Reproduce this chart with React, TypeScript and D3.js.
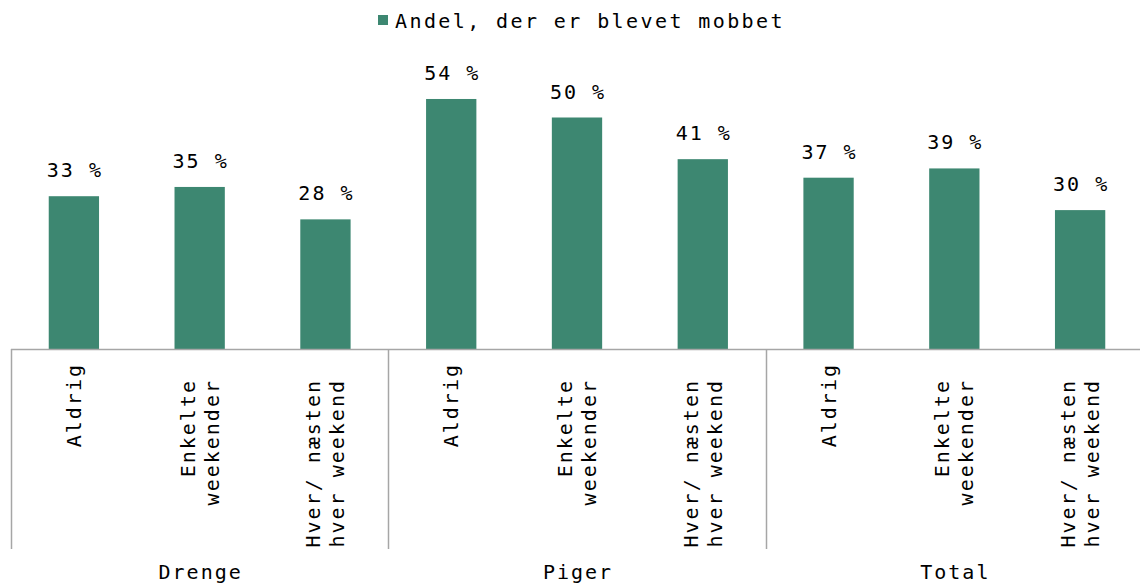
import React from 'react';
import * as d3 from 'd3';

// data
const groups = ['Drenge', 'Piger', 'Total'];
const subLabels = [['Aldrig'], ['Enkelte', 'weekender'], ['Hver/ næsten', 'hver weekend']];
const values = [33, 35, 28, 54, 50, 41, 37, 39, 30];
const seriesName = 'Andel, der er blevet mobbet';

const W = 1140;
const H = 585;
const barColor = '#3d8771';
const axisColor = '#a6a6a6';
const font = '"DejaVu Sans Mono", monospace';
const fs = 20;
const ls = 2;

export default function App() {
  const n = values.length;
  const x = d3
    .scaleBand<number>()
    .domain(d3.range(n))
    .range([11, 1143])
    .paddingInner(0.6)
    .paddingOuter(0.3);
  const y = d3.scaleLinear().domain([0, 60]).range([349, 71.2]);
  const step = x.step();
  const perGroup = subLabels.length;
  const baseY = y(0);

  return (
    <svg width={W} height={H} style={{ position: 'absolute', left: 0, top: 0 }} fontFamily={font}>
      {/* legend */}
      <rect x={378} y={15} width={10} height={10} fill={barColor} />
      <text x={395} y={28} fontSize={fs} letterSpacing={2.4} fill="#000">
        {seriesName}
      </text>

      {/* bars */}
      {values.map((v, i) => (
        <g key={i}>
          <rect x={x(i)} y={y(v)} width={x.bandwidth()} height={baseY - y(v)} fill={barColor} />
          <text
            x={x(i)! + x.bandwidth() / 2 + 1}
            y={y(v) - 19}
            fontSize={fs}
            letterSpacing={ls}
            textAnchor="middle"
            fill="#000"
          >
            {v} %
          </text>
        </g>
      ))}

      {/* axis line */}
      <line x1={11} x2={W} y1={baseY + 0.5} y2={baseY + 0.5} stroke={axisColor} strokeWidth={1.5} />

      {/* group separators */}
      {d3.range(groups.length + 1).map((g) => {
        const gx = Math.round(11 + g * perGroup * step) + 0.5;
        return <line key={g} x1={gx} x2={gx} y1={baseY} y2={549} stroke={axisColor} strokeWidth={1.5} />;
      })}

      {/* category labels, rotated */}
      {values.map((_, i) => {
        const lines = subLabels[i % perGroup];
        const cx = x(i)! + x.bandwidth() / 2;
        const endY = lines.length === 1 ? 363 : 379;
        const lh = 24;
        return (
          <text
            key={i}
            transform={`translate(${cx},${endY}) rotate(-90)`}
            fontSize={fs}
            letterSpacing={ls}
            textAnchor="end"
            fill="#000"
          >
            {lines.map((l, k) => (
              <tspan key={k} x={0} y={(k - (lines.length - 1) / 2) * lh + 7}>
                {l}
              </tspan>
            ))}
          </text>
        );
      })}

      {/* group labels */}
      {groups.map((g, gi) => (
        <text
          key={g}
          x={11 + (gi + 0.5) * perGroup * step + 1}
          y={579}
          fontSize={fs}
          letterSpacing={ls}
          textAnchor="middle"
          fill="#000"
        >
          {g}
        </text>
      ))}
    </svg>
  );
}
